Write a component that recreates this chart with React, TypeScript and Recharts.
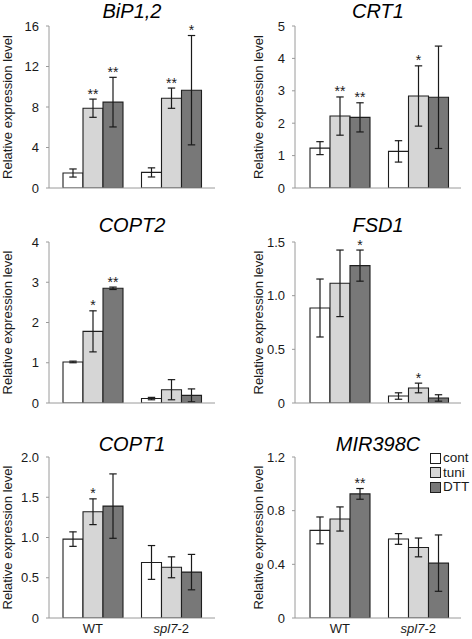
import React from 'react';
import { BarChart, Bar, XAxis, YAxis, ErrorBar, LabelList } from 'recharts';

// ---------- data ----------
const GROUPS = ['WT', 'spl7-2'];
const TREATMENTS = ['cont', 'tuni', 'DTT'];
const KEYS = ['cont', 'tuni', 'dtt'];

// rows: [WT, spl7-2]; columns: [cont, tuni, DTT]
const BIP_MEAN = [[1.48, 7.88, 8.48], [1.54, 8.87, 9.66]];
const BIP_ERR = [[0.4, 0.9, 2.45], [0.45, 1.0, 5.4]];
const BIP_SIG = [['', '**', '**'], ['', '**', '*']];
const BIP_TICKS = [0, 4, 8, 12, 16];
const BIP_TICK_LABELS = ['0', '4', '8', '12', '16'];

const CRT_MEAN = [[1.23, 2.22, 2.18], [1.13, 2.84, 2.8]];
const CRT_ERR = [[0.2, 0.59, 0.45], [0.33, 0.93, 1.58]];
const CRT_SIG = [['', '**', '**'], ['', '*', '']];
const CRT_TICKS = [0, 1, 2, 3, 4, 5];
const CRT_TICK_LABELS = ['0', '1', '2', '3', '4', '5'];

const COPT2_MEAN = [[1.02, 1.78, 2.85], [0.11, 0.33, 0.19]];
const COPT2_ERR = [[0.02, 0.51, 0.03], [0.03, 0.25, 0.16]];
const COPT2_SIG = [['', '*', '**'], ['', '', '']];
const COPT2_TICKS = [0, 1, 2, 3, 4];
const COPT2_TICK_LABELS = ['0', '1', '2', '3', '4'];

const FSD1_MEAN = [[0.885, 1.115, 1.28], [0.065, 0.14, 0.047]];
const FSD1_ERR = [[0.27, 0.31, 0.145], [0.03, 0.045, 0.03]];
const FSD1_SIG = [['', '', '*'], ['', '*', '']];
const FSD1_TICKS = [0, 0.5, 1.0, 1.5];
const FSD1_TICK_LABELS = ['0', '0.5', '1.0', '1.5'];

const COPT1_MEAN = [[0.98, 1.32, 1.39], [0.69, 0.63, 0.57]];
const COPT1_ERR = [[0.09, 0.16, 0.4], [0.21, 0.13, 0.22]];
const COPT1_SIG = [['', '*', ''], ['', '', '']];
const COPT1_TICKS = [0, 0.5, 1.0, 1.5, 2.0];
const COPT1_TICK_LABELS = ['0', '0.5', '1.0', '1.5', '2.0'];

const MIR_MEAN = [[0.653, 0.738, 0.925], [0.589, 0.526, 0.409]];
const MIR_ERR = [[0.1, 0.09, 0.04], [0.04, 0.07, 0.21]];
const MIR_SIG = [['', '', '**'], ['', '', '']];
const MIR_TICKS = [0, 0.4, 0.8, 1.2];
const MIR_TICK_LABELS = ['0', '0.4', '0.8', '1.2'];

const Y_LABEL = 'Relative expression level';

// ---------- styles ----------
const FONT = '"Liberation Sans", Arial, Helvetica, sans-serif';
const FILLS = ['#ffffff', '#d6d6d6', '#787878'];
const BAR_STROKE = '#1e1e1e';
const AXIS_COLOR = '#9a9a9a';
const TEXT_COLOR = '#1a1a1a';

type PanelDef = {
  gene: string;
  mean: number[][];
  err: number[][];
  sig: string[][];
  ticks: number[];
  tickLabels: string[];
};

const PANELS: PanelDef[] = [
  { gene: 'BiP1,2', mean: BIP_MEAN, err: BIP_ERR, sig: BIP_SIG, ticks: BIP_TICKS, tickLabels: BIP_TICK_LABELS },
  { gene: 'CRT1', mean: CRT_MEAN, err: CRT_ERR, sig: CRT_SIG, ticks: CRT_TICKS, tickLabels: CRT_TICK_LABELS },
  { gene: 'COPT2', mean: COPT2_MEAN, err: COPT2_ERR, sig: COPT2_SIG, ticks: COPT2_TICKS, tickLabels: COPT2_TICK_LABELS },
  { gene: 'FSD1', mean: FSD1_MEAN, err: FSD1_ERR, sig: FSD1_SIG, ticks: FSD1_TICKS, tickLabels: FSD1_TICK_LABELS },
  { gene: 'COPT1', mean: COPT1_MEAN, err: COPT1_ERR, sig: COPT1_SIG, ticks: COPT1_TICKS, tickLabels: COPT1_TICK_LABELS },
  { gene: 'MIR398C', mean: MIR_MEAN, err: MIR_ERR, sig: MIR_SIG, ticks: MIR_TICKS, tickLabels: MIR_TICK_LABELS },
];

// layout per panel (left/top of chart box, sizes)
const LAYOUT = [
  { left: 0, top: 0, height: 200, marginTop: 26, titleY: 18, xh: 12, col: 0, bottom: false },
  { left: 236, top: 0, height: 200, marginTop: 26, titleY: 18, xh: 12, col: 1, bottom: false },
  { left: 0, top: 200, height: 215, marginTop: 42, titleY: 32, xh: 12, col: 0, bottom: false },
  { left: 236, top: 200, height: 215, marginTop: 42, titleY: 32, xh: 12, col: 1, bottom: false },
  { left: 0, top: 420, height: 219, marginTop: 37, titleY: 31, xh: 21, col: 0, bottom: true },
  { left: 236, top: 420, height: 219, marginTop: 37, titleY: 31, xh: 21, col: 1, bottom: true },
];

const COLS = [
  { yw: 49, right: 21, padL: 4.5, padR: 4.5, labelOffset: 7 },
  { yw: 59, right: 11, padL: 5.5, padR: 3.5, labelOffset: 22 },
];

function buildRows(p: PanelDef) {
  return GROUPS.map((g, i) => {
    const row: any = { group: g };
    KEYS.forEach((k, j) => {
      row[k] = p.mean[i][j];
      row[k + 'Err'] = p.err[i][j];
      row[k + 'Lbl'] = p.sig[i][j] ? `${p.sig[i][j]}|${p.err[i][j]}|${p.mean[i][j]}` : '';
    });
    return row;
  });
}

const StarLabel = (props: any) => {
  const { value } = props;
  if (!value) return null;
  const vb = props.viewBox || {};
  const x = vb.x ?? props.x;
  const y = vb.y ?? props.y;
  const width = vb.width ?? props.width;
  const height = vb.height ?? props.height;
  const [s, e, m] = String(value).split('|');
  const pxPerUnit = Number(height) / Number(m);
  const capY = Number(y) - Number(e) * pxPerUnit;
  return (
    <text
      x={Number(x) + Number(width) / 2}
      y={capY - 0.5}
      textAnchor="middle"
      fontSize={14}
      fontFamily={FONT}
      fill={TEXT_COLOR}
    >
      {s}
    </text>
  );
};

const XTick = (props: any) => {
  const { x, y, payload } = props;
  const v = String(payload.value);
  const parts = v.split('-');
  return (
    <text x={x} y={y + 15} textAnchor="middle" fontSize={13} fontFamily={FONT} fill={TEXT_COLOR}>
      {v === 'spl7-2' ? (
        <>
          <tspan fontStyle="italic">{parts[0]}</tspan>
          <tspan>-{parts[1]}</tspan>
        </>
      ) : (
        v
      )}
    </text>
  );
};

function Panel({ p, lay }: { p: PanelDef; lay: (typeof LAYOUT)[number] }) {
  const col = COLS[lay.col];
  const rows = buildRows(p);
  const plotLeft = col.yw;
  const plotRight = 236 - col.right;
  const cx = (plotLeft + plotRight) / 2;
  const max = p.ticks[p.ticks.length - 1];
  return (
    <div style={{ position: 'absolute', left: lay.left, top: lay.top, width: 236, height: lay.height }}>
      <BarChart
        width={236}
        height={lay.height}
        data={rows}
        margin={{ top: lay.marginTop, right: col.right, left: 0, bottom: 0 }}
        barCategoryGap={9.5}
        barGap={0}
      >
        <text
          x={cx}
          y={lay.titleY}
          textAnchor="middle"
          fontSize={20}
          fontStyle="italic"
          fontFamily={FONT}
          fill="#000"
        >
          {p.gene}
        </text>
        <XAxis
          dataKey="group"
          type="category"
          height={lay.xh}
          padding={{ left: col.padL, right: col.padR }}
          axisLine={{ stroke: AXIS_COLOR, strokeWidth: 1 }}
          tickLine={false}
          tickSize={0}
          tickMargin={0}
          tick={lay.bottom ? <XTick /> : false}
          interval={0}
        />
        <YAxis
          type="number"
          width={col.yw}
          domain={[0, max]}
          ticks={p.ticks}
          interval={0}
          allowDataOverflow
          axisLine={{ stroke: AXIS_COLOR, strokeWidth: 1 }}
          tickLine={{ stroke: AXIS_COLOR }}
          tickSize={3}
          tickMargin={7}
          tick={{ fill: TEXT_COLOR, fontSize: 13, fontFamily: FONT }}
          tickFormatter={(v: number) => {
            const i = p.ticks.indexOf(v);
            return i >= 0 ? p.tickLabels[i] : String(v);
          }}
          label={{
            value: Y_LABEL,
            angle: -90,
            position: 'insideLeft',
            offset: col.labelOffset,
            style: { textAnchor: 'middle', fontSize: 13, fontFamily: FONT, fill: TEXT_COLOR },
          }}
        />
        {KEYS.map((k, j) => (
          <Bar
            key={k}
            dataKey={k}
            name={TREATMENTS[j]}
            fill={FILLS[j]}
            stroke={BAR_STROKE}
            strokeWidth={1.1}
            isAnimationActive={false}
          >
            <ErrorBar dataKey={k + 'Err'} width={3.7} stroke="#1a1a1a" strokeWidth={1.2} direction="y" />
            <LabelList dataKey={k + 'Lbl'} content={<StarLabel />} />
          </Bar>
        ))}
      </BarChart>
    </div>
  );
}

const LegendBox = () => (
  <div
    style={{
      position: 'absolute',
      left: 430,
      top: 451,
      fontFamily: FONT,
      fontSize: 13.5,
      color: TEXT_COLOR,
    }}
  >
    {TREATMENTS.map((t, i) => (
      <div key={t} style={{ display: 'flex', alignItems: 'center', height: 14.5 }}>
        <div
          style={{
            width: 11,
            height: 11,
            boxSizing: 'border-box',
            border: `1px solid ${BAR_STROKE}`,
            background: FILLS[i],
            marginRight: 2,
          }}
        />
        <span style={{ lineHeight: '14px' }}>{t}</span>
      </div>
    ))}
  </div>
);

export default function App() {
  return (
    <div
      style={{
        position: 'absolute',
        left: 0,
        top: 0,
        width: 472,
        height: 639,
        background: '#fff',
        overflow: 'hidden',
      }}
    >
      {PANELS.map((p, i) => (
        <Panel key={p.gene} p={p} lay={LAYOUT[i]} />
      ))}
      <LegendBox />
    </div>
  );
}
